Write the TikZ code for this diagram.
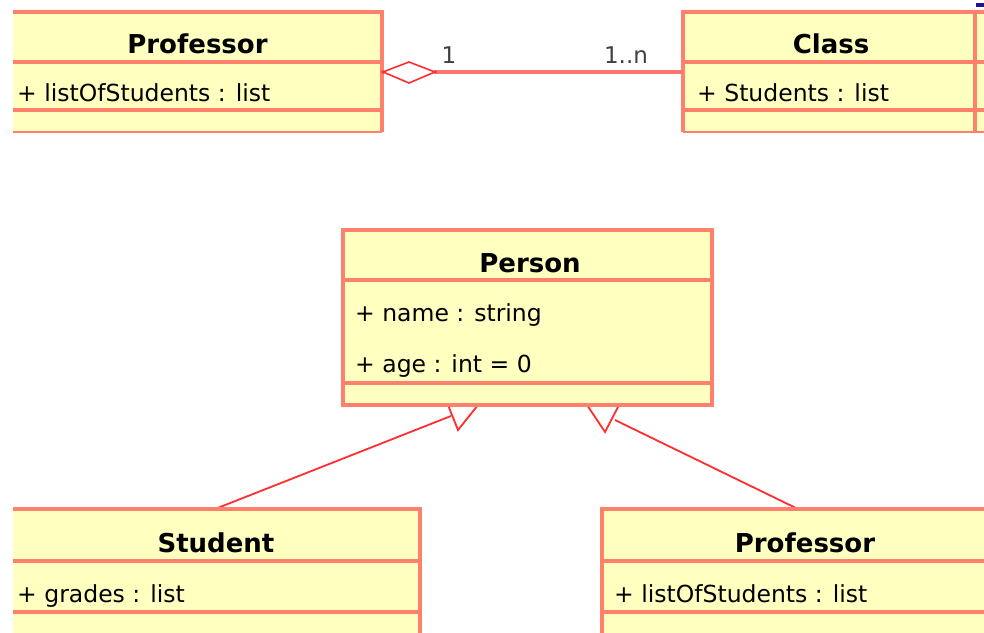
\documentclass[tikz,border=0pt]{standalone}
\usepackage{fontspec}
\setmainfont{DejaVu Sans}
\definecolor{umlfill}{RGB}{255,255,192}
\definecolor{umledge}{RGB}{255,128,108}
\definecolor{linkred}{RGB}{255,45,45}
\definecolor{agglink}{RGB}{255,115,115}
\definecolor{multgray}{RGB}{64,64,64}
\definecolor{markblue}{RGB}{30,20,140}
\tikzset{
  boxfill/.style={fill=umlfill, draw=none, inner sep=0pt, anchor=north west},
  boxedge/.style={draw=umledge, line width=3.6pt},
  boxedgethin/.style={draw=umledge, line width=2pt},
  classname/.style={font=\fontsize{26}{30}\selectfont\bfseries, anchor=base, inner sep=0pt},
  attr/.style={font=\fontsize{23.5}{28}\selectfont, anchor=base west, inner sep=0pt},
  mult/.style={font=\fontsize{23}{27}\selectfont, text=multgray, anchor=base, inner sep=0pt},
  genlink/.style={draw=linkred, line width=1.8pt},
  genhead/.style={draw=linkred, line width=1.8pt, line join=miter},
  agglinkstyle/.style={draw=agglink, line width=3.6pt},
  agghead/.style={draw=linkred, line width=1.6pt, fill=white, line join=miter},
}
\begin{document}
\begin{tikzpicture}[x=1pt, y=-1pt]
\useasboundingbox (0,0) rectangle (984,632);
\clip (0,0) rectangle (984,632);

% ---------- top row: Professor --<> Class ----------
\node[boxfill, minimum width=369pt, minimum height=120pt] (profA) at (13,12) {};
\draw[boxedge] (13,12) -- (382,12) -- (382,132);
\draw[boxedge] (13,62) -- (382,62);
\draw[boxedge] (13,110) -- (382,110);
\draw[boxedgethin] (13,132) -- (382,132);
\node[classname] (profAname) at (197.5,53) {Professor};
\node[attr] (profAattr) at (17,101) {+ listOfStudents : list};

\node[boxfill, minimum width=301pt, minimum height=120pt] (classbox) at (683,12) {};
\draw[boxedge] (683,132) -- (683,12) -- (984,12);
\draw[boxedge] (975,12) -- (975,132);
\draw[boxedge] (683,62) -- (984,62);
\draw[boxedge] (683,110) -- (984,110);
\draw[boxedgethin] (683,132) -- (984,132);
\node[classname] (classname) at (831,53) {Class};
\node[attr] (classattr) at (697,101) {+ Students : list};
\fill[markblue] (976,3) rectangle (984,7);

% aggregation
\coordinate (aggL) at (383,72);
\coordinate (aggT) at (409,62);
\coordinate (aggR) at (435,72);
\coordinate (aggB) at (409,83);
\coordinate (aggEnd) at (683,72);
\draw[agglinkstyle] (aggR) -- (aggEnd);
\draw[agghead] (aggL) -- (aggT) -- (aggR) -- (aggB) -- cycle;
\fill[linkred] (aggL) circle (1.8pt) (aggR) circle (1.8pt);
\node[mult] (multone) at (449,63) {1};
\node[mult] (multmany) at (626,63) {1..n};

% ---------- generalisation: Student, Professor -> Person ----------
\coordinate (headL1) at (448,405);
\coordinate (headL2) at (458,430);
\coordinate (headL3) at (478,405);
\coordinate (headLjoin) at (451,416);
\coordinate (headR1) at (587,405);
\coordinate (headR2) at (605,432);
\coordinate (headR3) at (619,405);
\coordinate (headRjoin) at (615,420);
\coordinate (studentTop) at (215,509);
\coordinate (profBTop) at (798,509);

\draw[genlink] (studentTop) -- (headLjoin);
\draw[genhead] (headL1) -- (headL2) -- (headL3);
\draw[genlink] (profBTop) -- (headRjoin);
\draw[genhead] (headR1) -- (headR2) -- (headR3);

% Person
\node[boxfill, minimum width=369pt, minimum height=175pt] (person) at (343,230) {};
\draw[boxedge] (343,230) rectangle (712,405);
\draw[boxedge] (343,280) -- (712,280);
\draw[boxedge] (343,383) -- (712,383);
\node[classname] (personname) at (530,272) {Person};
\node[attr] (personattrA) at (355,321) {+ name : string};
\node[attr] (personattrB) at (355,372) {+ age : int = 0};

% Student
\node[boxfill, minimum width=407pt, minimum height=130pt] (student) at (13,509) {};
\draw[boxedge] (13,509) -- (420,509) -- (420,640);
\draw[boxedge] (13,561) -- (420,561);
\draw[boxedge] (13,612) -- (420,612);
\node[classname] (studentname) at (216,552) {Student};
\node[attr] (studentattr) at (17,602) {+ grades : list};

% Professor (subclass)
\node[boxfill, minimum width=407pt, minimum height=130pt] (profB) at (602,509) {};
\draw[boxedge] (602,640) -- (602,509) -- (1009,509) -- (1009,640);
\draw[boxedge] (602,561) -- (1009,561);
\draw[boxedge] (602,612) -- (1009,612);
\node[classname] (profBname) at (805,552) {Professor};
\node[attr] (profBattr) at (614,602) {+ listOfStudents : list};
\end{tikzpicture}
\end{document}
